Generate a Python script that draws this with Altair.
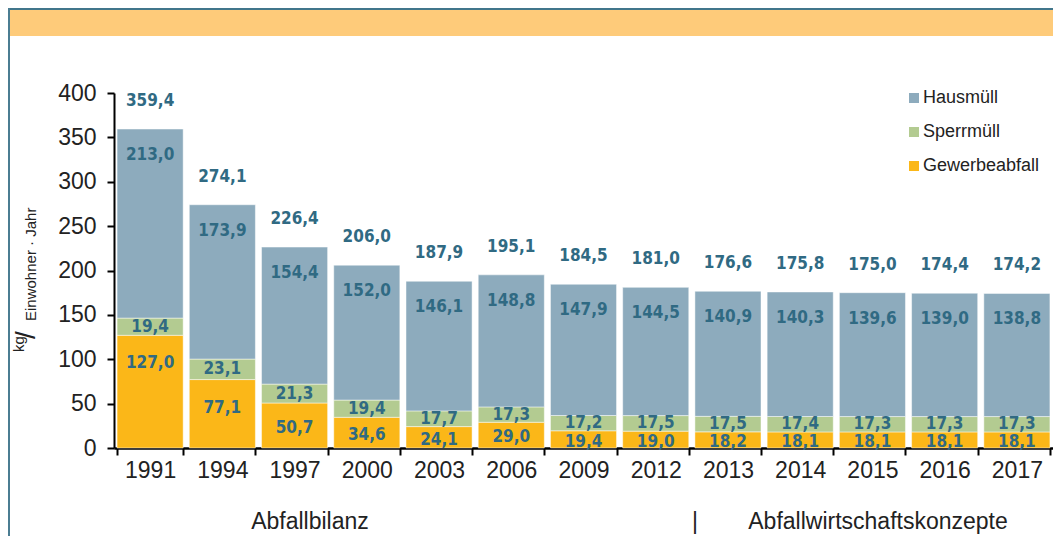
import altair as alt
import pandas as pd

# ---------------- data ----------------
jahre = ["1991", "1994", "1997", "2000", "2003", "2006", "2009",
         "2012", "2013", "2014", "2015", "2016", "2017"]
hausmuell = [213.0, 173.9, 154.4, 152.0, 146.1, 148.8, 147.9,
             144.5, 140.9, 140.3, 139.6, 139.0, 138.8]
sperrmuell = [19.4, 23.1, 21.3, 19.4, 17.7, 17.3, 17.2,
              17.5, 17.5, 17.4, 17.3, 17.3, 17.3]
gewerbeabfall = [127.0, 77.1, 50.7, 34.6, 24.1, 29.0, 19.4,
                 19.0, 18.2, 18.1, 18.1, 18.1, 18.1]
gesamt = [359.4, 274.1, 226.4, 206.0, 187.9, 195.1, 184.5,
          181.0, 176.6, 175.8, 175.0, 174.4, 174.2]
kategorien = ["Hausmüll", "Sperrmüll", "Gewerbeabfall"]
farben = ["#8DABBD", "#B3CB91", "#FBB718"]
y_ticks = [0, 50, 100, 150, 200, 250, 300, 350, 400]

# ---------------- layout ----------------
W, H = 939, 355
PAD_L, PAD_T, PAD_B = 106, 85, 88
UNIT = H / 400.0          # px per data unit
LABEL_COL = "#306A83"
TXT_COL = "#222222"
FONT = "Liberation Sans"
BOLD_FONT = "DejaVu Sans Condensed, Roboto, sans-serif"


def fmt(v):
    return f"{v:.1f}".replace(".", ",")


rows = []
for i, j in enumerate(jahre):
    rows.append({"Jahr": j, "Kategorie": "Gewerbeabfall", "Wert": gewerbeabfall[i], "ord": 0})
    rows.append({"Jahr": j, "Kategorie": "Sperrmüll", "Wert": sperrmuell[i], "ord": 1})
    rows.append({"Jahr": j, "Kategorie": "Hausmüll", "Wert": hausmuell[i], "ord": 2})
bars_df = pd.DataFrame(rows)

lab = []
for i, j in enumerate(jahre):
    g, s, h, t = gewerbeabfall[i], sperrmuell[i], hausmuell[i], gesamt[i]
    top = g + s + h
    lab.append({"Jahr": j, "Wert": t + 28 / UNIT, "txt": fmt(t)})
    lab.append({"Jahr": j, "Wert": top - 26 / UNIT, "txt": fmt(h)})
    lab.append({"Jahr": j, "Wert": g + s / 2, "txt": fmt(s)})
    lab.append({"Jahr": j, "Wert": g - min(28.0 / UNIT, g / 2 + 2.5), "txt": fmt(g)})
lab_df = pd.DataFrame(lab)

yscale = alt.Scale(domain=[0, 400], nice=False, zero=True)
xscale = alt.Scale(paddingInner=0.085, paddingOuter=0.0425)

x_axis = alt.Axis(title="", labelAngle=0, tickBand="extent",
                  labelFont=FONT, labelFontSize=23, labelColor=TXT_COL,
                  tickSize=7, tickWidth=2, tickColor="black",
                  domainColor="black", domainWidth=2.5, labelPadding=4)
y_axis = alt.Axis(title="", values=y_ticks, grid=False,
                  labelFont=FONT, labelFontSize=23, labelColor=TXT_COL,
                  tickSize=7, tickWidth=2, tickColor="black",
                  domainColor="black", domainWidth=2, labelPadding=11)

one = pd.DataFrame({"a": [0]})

band = alt.Chart(one).mark_rect(color="#FECB7A").encode(
    x=alt.value(-PAD_L), x2=alt.value(W), y=alt.value(-83), y2=alt.value(-57))
top_border = alt.Chart(one).mark_rect(color="#41768B").encode(
    x=alt.value(-PAD_L), x2=alt.value(W), y=alt.value(-85), y2=alt.value(-83))
left_border = alt.Chart(one).mark_rect(color="#4B7D92").encode(
    x=alt.value(-PAD_L), x2=alt.value(-PAD_L + 2), y=alt.value(-85), y2=alt.value(H + PAD_B))

bars = alt.Chart(bars_df).mark_bar(
    stroke="white", strokeWidth=0.8, strokeOpacity=0.6
).encode(
    x=alt.X("Jahr:O", sort=jahre, scale=xscale, axis=x_axis),
    y=alt.Y("Wert:Q", stack="zero", scale=yscale, axis=y_axis),
    color=alt.Color("Kategorie:N",
                    scale=alt.Scale(domain=kategorien, range=farben),
                    legend=alt.Legend(title=None, orient="none", legendX=791, legendY=-4,
                                      symbolType="square", symbolSize=100,
                                      symbolStrokeWidth=0, labelFont=FONT,
                                      labelFontSize=18, labelColor=TXT_COL,
                                      rowPadding=16, labelOffset=0)),
    order=alt.Order("ord:Q"),
)

labels = alt.Chart(lab_df).mark_text(
    font=BOLD_FONT, fontWeight="bold", fontSize=17, color=LABEL_COL,
    baseline="middle", align="center"
).encode(
    x=alt.X("Jahr:O", sort=jahre, scale=xscale, axis=x_axis),
    y=alt.Y("Wert:Q", scale=yscale, axis=y_axis),
    text="txt:N",
)

# y-axis title built from pieces: kg / Einwohner · Jahr
t_kg = alt.Chart(one).mark_text(text="kg", font=FONT, fontSize=15, color=TXT_COL,
                                angle=270, align="left", baseline="alphabetic").encode(
    x=alt.value(-90), y=alt.value(259))
t_sl = alt.Chart(one).mark_text(text="/", font=FONT, fontSize=28, color=TXT_COL,
                                angle=270, align="left", baseline="alphabetic").encode(
    x=alt.value(-79), y=alt.value(246))
t_ew = alt.Chart(one).mark_text(text="Einwohner · Jahr", font=FONT, fontSize=15, color=TXT_COL,
                                angle=270, align="left", baseline="alphabetic").encode(
    x=alt.value(-78), y=alt.value(228))

# bottom group captions
cap_style = dict(font=FONT, fontSize=23, color=TXT_COL, baseline="middle", align="center")
c1 = alt.Chart(one).mark_text(text="Abfallbilanz", **cap_style).encode(
    x=alt.value(196), y=alt.value(429))
c2 = alt.Chart(one).mark_text(text="|", **cap_style).encode(
    x=alt.value(581), y=alt.value(429))
c3 = alt.Chart(one).mark_text(text="Abfallwirtschaftskonzepte", **cap_style).encode(
    x=alt.value(764), y=alt.value(429))

chart = alt.layer(
    band, top_border, left_border, bars, labels, t_kg, t_sl, t_ew, c1, c2, c3
).properties(
    width=W, height=H,
    autosize=alt.AutoSizeParams(type="none"),
    padding={"left": PAD_L, "top": PAD_T, "right": 0, "bottom": PAD_B},
    background="white",
).configure_view(stroke="transparent")

chart.save("out.html", embed_options={"renderer": "svg", "actions": False})
